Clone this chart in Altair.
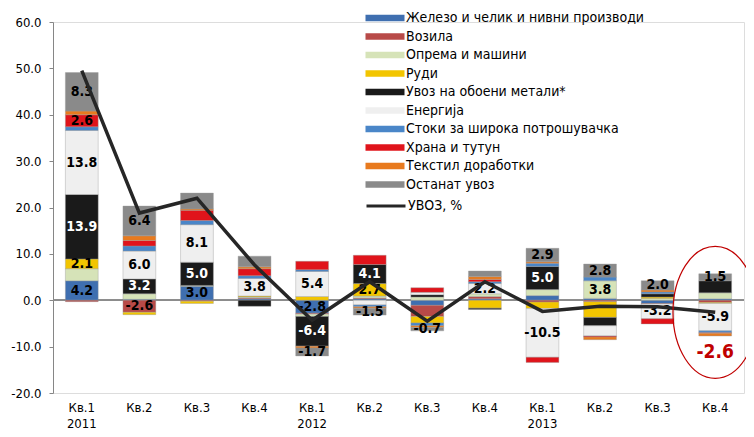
import altair as alt
import pandas as pd

quarters = ["2011 Кв.1", "2011 Кв.2", "2011 Кв.3", "2011 Кв.4",
            "2012 Кв.1", "2012 Кв.2", "2012 Кв.3", "2012 Кв.4",
            "2013 Кв.1", "2013 Кв.2", "2013 Кв.3", "2013 Кв.4"]

series = ["Железо и челик и нивни производи", "Возила", "Опрема и машини", "Руди",
          "Увоз на обоени метали*", "Енергија", "Стоки за широка потрошувачка",
          "Храна и тутун", "Текстил доработки", "Останат увоз"]

iron      = [4.2, 0.2, 3.0, 0.3, -2.8, 0.3, -1.1, 0.3, 1.0, 0.4, -0.7, 0.3]
vehicles  = [-0.3, -2.6, -0.2, 0.2, -0.2, 0.2, -2.4, 0.5, -0.4, -0.3, -0.1, -0.5]
equipment = [2.6, 1.2, 0.2, 0.2, -0.5, 0.4, 0.7, 0.6, 1.3, 3.8, 0.4, 1.3]
ores      = [2.1, -0.5, -0.5, 0.2, 0.8, 2.7, -1.4, -1.7, -1.4, -3.4, 0.3, -0.2]
nonferrous= [13.9, 3.2, 5.0, -1.3, -6.4, 4.1, 0.5, -0.3, 5.0, -1.8, 0.7, 2.6]
energy    = [13.8, 6.0, 8.1, 3.8, 5.4, -1.0, 0.5, 2.2, -10.5, -2.2, -3.2, -5.9]
consumer  = [0.8, 1.1, 0.9, 0.6, 0.4, -0.4, -0.6, 0.4, 0.7, 0.8, 0.4, -0.4]
food      = [2.6, 1.2, 2.2, 1.5, 1.8, 2.0, 1.0, 0.5, -1.1, -0.2, -1.1, -0.1]
textile   = [0.8, 1.0, 0.3, 0.4, -0.4, -0.3, -0.4, 0.6, 0.3, -0.6, 0.4, -0.6]
other     = [8.3, 6.4, 3.4, 2.3, -1.7, -1.5, -0.7, 1.2, 2.9, 2.8, 2.0, 1.5]

imports_total = [49.5, 18.8, 22.0, 7.6, -4.3, 4.0, -4.5, 4.0, -2.4, -1.3, -1.4, -2.6]

# (quarter index, series index) of segments that carry a value label
labeled = [(0, 0), (0, 3), (0, 4), (0, 5), (0, 7), (0, 9),
           (1, 1), (1, 4), (1, 5), (1, 9),
           (2, 0), (2, 4), (2, 5),
           (3, 5),
           (4, 5), (4, 0), (4, 4), (4, 9),
           (5, 4), (5, 3), (5, 9),
           (6, 9),
           (7, 5),
           (8, 4), (8, 9), (8, 5),
           (9, 9), (9, 2),
           (10, 9), (10, 5),
           (11, 9), (11, 5)]

colors = ["#3F6FB0", "#B84A48", "#D6E3B8", "#F2C500", "#1A1A1A",
          "#EFEFEF", "#4A86C8", "#E0141B", "#E87A1E", "#8A8A8A"]

all_values = [iron, vehicles, equipment, ores, nonferrous, energy,
              consumer, food, textile, other]

rows = []
for si, (name, vals) in enumerate(zip(series, all_values)):
    for qi, v in enumerate(vals):
        rows.append({"quarter": quarters[qi], "series": name, "order": si,
                     "value": v, "label": f"{v:.1f}",
                     "show": (qi, si) in labeled})
df = pd.DataFrame(rows)

line_df = pd.DataFrame({"quarter": quarters, "value": imports_total,
                        "name": ["УВОЗ, %"] * len(quarters),
                        "label": [f"{v:.1f}" for v in imports_total]})

FONT = "DejaVu Sans Condensed"

x_enc = alt.X("quarter:N", sort=quarters, title=None,
              scale=alt.Scale(paddingInner=0.43, paddingOuter=0.215),
              axis=alt.Axis(domain=False, ticks=False, labelAngle=0,
                            labelFontSize=13, labelPadding=8, labelLineHeight=16,
                            labelColor="#000000", labelFont=FONT,
                            labelExpr="substring(datum.value,5) == 'Кв.1' ? [substring(datum.value,5), substring(datum.value,0,4)] : substring(datum.value,5)"))

y_scale = alt.Scale(domain=[-20, 60], nice=False)

bars = alt.Chart(df).mark_bar(stroke="#9a9a9a", strokeWidth=0.4).encode(
    x=x_enc,
    y=alt.Y("value:Q", stack="zero", scale=y_scale, title=None,
            axis=alt.Axis(values=list(range(-20, 61, 10)), grid=False,
                          domainColor="#868686", tickColor="#868686", tickSize=4,
                          labelFontSize=13, labelPadding=8, labelColor="#000000",
                          labelFont=FONT,
                          labelExpr="replace(format(datum.value, '.1f'), '\u2212', '-')")),
    color=alt.Color("series:N", sort=series,
                    scale=alt.Scale(domain=series, range=colors),
                    legend=alt.Legend(orient="none", legendX=325, legendY=-11,
                                      title=None, symbolType="M-3,-0.5H3V0.5H-3Z",
                                      symbolSize=169, symbolStrokeWidth=0,
                                      labelFontSize=14, labelFont=FONT,
                                      labelColor="#000000", rowPadding=4.5,
                                      labelOffset=14, padding=0,
                                      labelLimit=400)),
    order=alt.Order("order:Q", sort="ascending"),
)

zero_rule = alt.Chart(df).mark_rule(color="#8c8c8c", strokeWidth=1).encode(
    y=alt.datum(0)
)

texts = alt.Chart(df).transform_stack(
    stack="value", groupby=["quarter"], sort=[alt.SortField("order")],
    as_=["y0", "y1"], offset="zero"
).transform_calculate(
    mid="(datum.y0 + datum.y1) / 2"
).transform_filter("datum.show").mark_text(
    fontSize=14, fontWeight="bold", font=FONT
).encode(
    x=alt.X("quarter:N", sort=quarters),
    y=alt.Y("mid:Q", scale=y_scale),
    text="label:N",
    color=alt.condition("datum.series == 'Увоз на обоени метали*'",
                        alt.value("#ffffff"), alt.value("#000000")),
)

line = alt.Chart(line_df).mark_line(strokeWidth=3.5).encode(
    x=alt.X("quarter:N", sort=quarters),
    y=alt.Y("value:Q", scale=y_scale),
    stroke=alt.Stroke("name:N", scale=alt.Scale(range=["#262626"]),
                      legend=alt.Legend(orient="none", legendX=325, legendY=176,
                                        title=None, symbolType="M-3,0H3",
                                        symbolStrokeWidth=3, symbolSize=169,
                                        labelFontSize=14, labelFont=FONT,
                                        labelColor="#000000", labelOffset=14,
                                        padding=0)),
)

last = line_df.iloc[[-1]]

ellipse = alt.Chart(last).mark_point(
    shape="M0,-1A0.64,1 0 1,1 0,1A0.64,1 0 1,1 0,-1Z",
    size=17424, filled=False, color="#C00000", strokeWidth=1.2, opacity=1
).encode(
    x=alt.X("quarter:N", sort=quarters),
    y=alt.Y("value:Q", scale=y_scale),
)

red_label = alt.Chart(last).mark_text(
    dy=40, fontSize=19, fontWeight="bold", color="#C00000", font=FONT
).encode(
    x=alt.X("quarter:N", sort=quarters),
    y=alt.Y("value:Q", scale=y_scale),
    text="label:N",
)

chart = alt.layer(zero_rule, bars, texts, line, ellipse, red_label).properties(
    width=691, height=371,
    autosize=alt.AutoSizeParams(type="none"),
    padding={"left": 45, "top": 14, "right": 2, "bottom": 36},
).resolve_scale(color="independent").configure_view(stroke=None).configure(
    font=FONT
)

chart.save("out.html", embed_options={"renderer": "svg", "actions": False})
